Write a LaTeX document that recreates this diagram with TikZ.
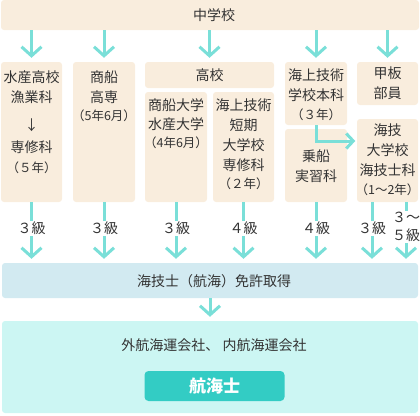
\documentclass[tikz,border=0pt]{standalone}
\usepackage{fontspec}
\setmainfont{Noto Sans CJK JP}
\usetikzlibrary{arrows.meta, positioning}
\definecolor{cream}{HTML}{F9EDDD}
\definecolor{flowteal}{HTML}{7ADFD8}
\definecolor{licblue}{HTML}{D2EAF1}
\definecolor{jobcyan}{HTML}{CCF6F3}
\definecolor{btnteal}{HTML}{33CCC4}
\definecolor{txt}{HTML}{333333}
\newcommand{\smalltxt}{\fontsize{12.5}{15}\selectfont}

\begin{document}
\begin{tikzpicture}[x=1pt, y=-1pt,
  box/.style={fill=cream, rounded corners=3pt, inner sep=0pt},
  lbl/.style={text=txt, font=\fontsize{14}{20}\selectfont, align=center, inner sep=0pt},
  flow/.style={draw=flowteal, line width=3pt, shorten >=4pt, -{Straight Barb[length=9pt,width=20pt]}},
  grade/.style={fill=white, text=txt, font=\fontsize{14}{18}\selectfont, inner sep=1pt, align=center}]
  \useasboundingbox (0,0) rectangle (420,415);
  % Schools
  \node[box, minimum width=418pt, minimum height=30pt] (jhs) at (210,15) {};
  \node[lbl] (jhs-t) at (214,15) {中学校};
  \node[box, minimum width=61pt, minimum height=140pt] (suisan) at (31.5,132) {};
  \node[box, minimum width=62pt, minimum height=140pt] (kosen) at (104,132) {};
  \node[box, minimum width=129pt, minimum height=26pt] (koko) at (209.5,75) {};
  \node[lbl] (koko-t) at (209.5,75) {高校};
  \node[box, minimum width=62pt, minimum height=110pt] (daigaku) at (176,147) {};
  \node[box, minimum width=61pt, minimum height=110pt] (tanki) at (243.5,147) {};
  \node[box, minimum width=62pt, minimum height=63pt] (honka) at (316,93.5) {};
  \node[box, minimum width=62pt, minimum height=73pt] (jousen) at (316,165.5) {};
  \node[box, minimum width=61pt, minimum height=43pt] (kanpan) at (387.5,83.5) {};
  \node[box, minimum width=61pt, minimum height=83pt] (kaidai) at (387.5,160.5) {};
  % School texts
  \node[lbl, anchor=north] (suisan-t) at (31.5,70.5) {水産高校\\漁業科\\[8pt]↓\\[2pt]専修科\\{\smalltxt（５年）}};
  \node[lbl, anchor=north] (kosen-t) at (104,70.5) {商船\\高専\\[-2pt]{\smalltxt（5年6月）}};
  \node[lbl, anchor=north] (daigaku-t) at (176,98.5) {商船大学\\[-1pt]水産大学\\[-2pt]{\smalltxt（4年6月）}};
  \node[lbl, anchor=north] (tanki-t) at (243.5,98.5) {海上技術\\短期\\大学校\\専修科\\[-2pt]{\smalltxt（２年）}};
  \node[lbl, anchor=north] (honka-t) at (316,68.5) {海上技術\\学校本科\\[-1pt]{\smalltxt（３年）}};
  \node[lbl, anchor=north] (jousen-t) at (316,149.5) {乗船\\実習科};
  \node[lbl, anchor=north] (kanpan-t) at (387.5,66.5) {甲板\\部員};
  \node[lbl, anchor=north] (kaidai-t) at (387.5,123.5) {海技\\大学校\\海技士科\\[-1pt]{\smalltxt（1～2年）}};
  % License and jobs
  \node[box, fill=licblue, minimum width=416pt, minimum height=35pt] (menkyo) at (210,280.5) {};
  \node[lbl] (menkyo-t) at (214,281) {海技士（航海）免許取得};
  \node[box, fill=jobcyan, minimum width=416pt, minimum height=92pt] (kaisha) at (210,367) {};
  \node[lbl] (kaisha-t) at (214,345) {外航海運会社、\ 内航海運会社};
  \node[box, fill=btnteal, rounded corners=4pt, minimum width=140pt, minimum height=30pt,
    text=white, font=\fontsize{17}{20}\selectfont\bfseries] (kokaishi) at (214.5,386) {航海士};
  % Arrows from junior high
  \foreach \b in {suisan, kosen, koko, honka, kanpan}
    \draw[flow] (jhs.south -| \b.north) -- (\b.north);
  \draw[flow, shorten >=1.5pt, -{Straight Barb[length=7pt,width=15pt]}] (honka.south) |- ([yshift=19.5pt]kaidai.west);
  % Arrows to license
  \draw[flow] (suisan.south) -- (suisan.south |- menkyo.north) node[grade, pos=0.43] (g-suisan) {３級};
  \draw[flow] (kosen.south) -- (kosen.south |- menkyo.north) node[grade, pos=0.43] (g-kosen) {３級};
  \draw[flow] (daigaku.south) -- (daigaku.south |- menkyo.north) node[grade, pos=0.43] (g-daigaku) {３級};
  \draw[flow] (tanki.south) -- (tanki.south |- menkyo.north) node[grade, pos=0.43] (g-tanki) {４級};
  \draw[flow] (jousen.south) -- (jousen.south |- menkyo.north) node[grade, pos=0.43] (g-jousen) {４級};
  \draw[flow] ([xshift=-15.5pt]kaidai.south) -- ([xshift=-15.5pt]kaidai.south |- menkyo.north) node[grade, pos=0.43] (g-kaidai) {３級};
  \draw[flow] ([xshift=18.5pt]kaidai.south) -- ([xshift=18.5pt]kaidai.south |- menkyo.north) node[grade, pos=0.41] (g-kaidai2) {３～\\５級};
  \draw[flow] (menkyo.south) -- (kaisha.north);
\end{tikzpicture}
\end{document}
